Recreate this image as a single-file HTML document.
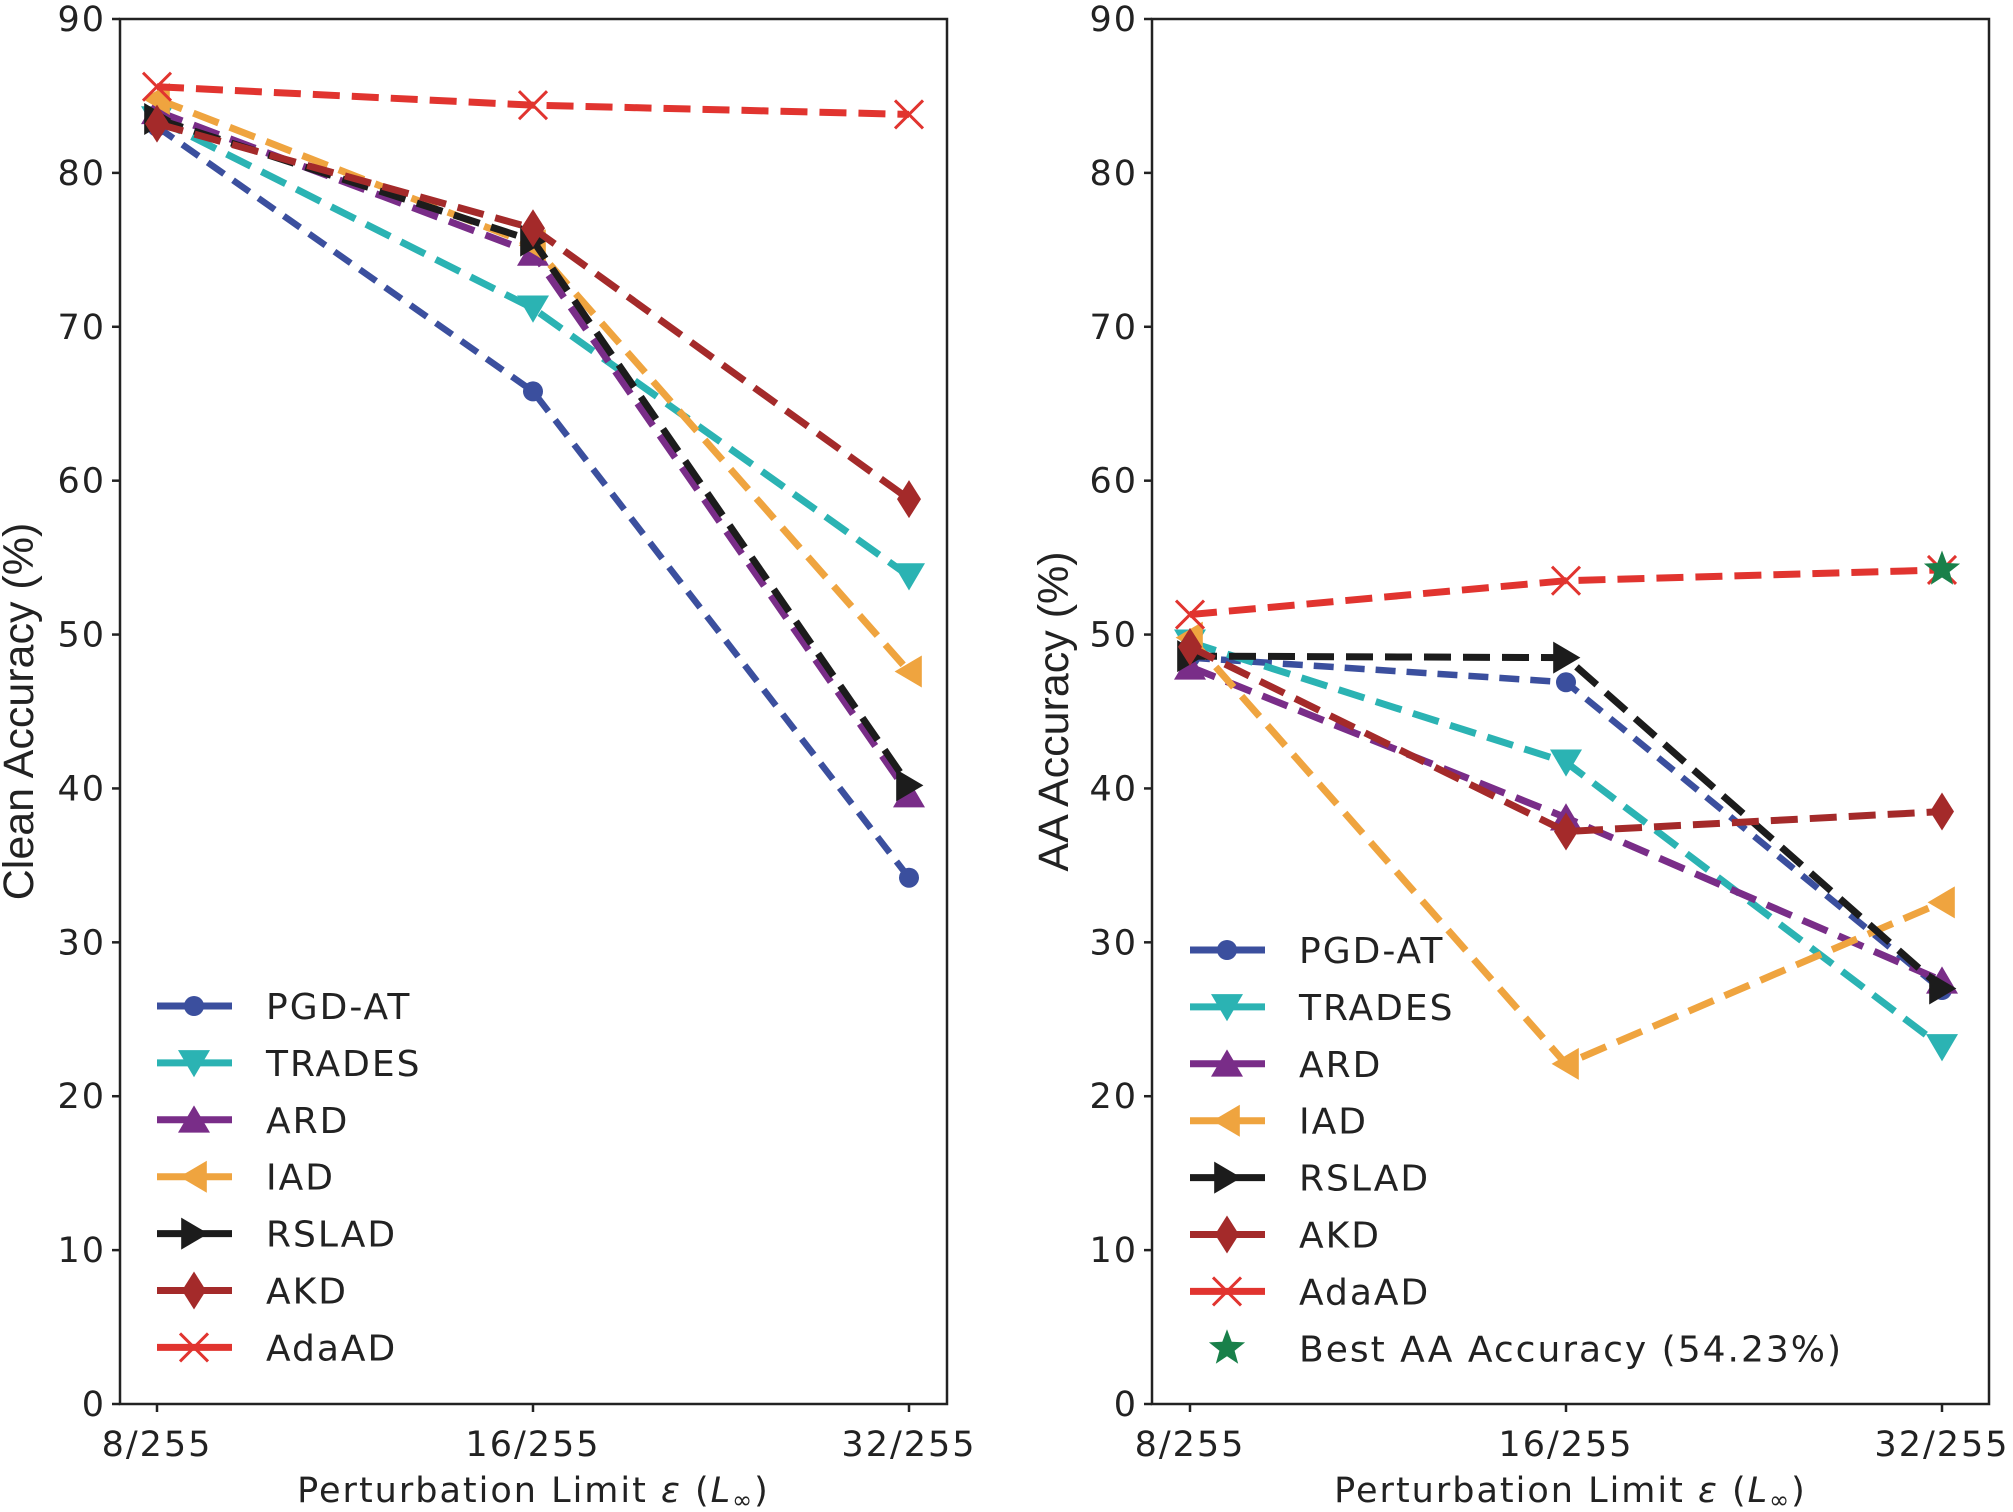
<!DOCTYPE html>
<html><head><meta charset="utf-8"><style>
html,body{margin:0;padding:0;background:#fff;}
svg{display:block;font-family:"DejaVu Sans","Liberation Sans",sans-serif;}
</style></head><body>
<svg id="chart" width="2013" height="1512" viewBox="0 0 2013 1512" xmlns="http://www.w3.org/2000/svg"></svg>
<script>
const categories = ["8/255","16/255","32/255"];
const yTicks = [0,10,20,30,40,50,60,70,80,90];
const seriesNames = ["PGD-AT","TRADES","ARD","IAD","RSLAD","AKD","AdaAD"];
const cleanPGDAT = [83.0,65.8,34.2];
const cleanTRADES = [83.5,71.2,53.8];
const cleanARD = [84.0,74.8,39.6];
const cleanIAD = [84.8,75.3,47.6];
const cleanRSLAD = [83.5,75.6,40.2];
const cleanAKD = [83.2,76.4,58.8];
const cleanAdaAD = [85.6,84.4,83.8];
const aaPGDAT = [48.5,46.9,26.9];
const aaTRADES = [49.5,41.7,23.2];
const aaARD = [47.9,38.1,27.5];
const aaIAD = [49.8,22.1,32.6];
const aaRSLAD = [48.6,48.5,27.0];
const aaAKD = [49.2,37.2,38.5];
const aaAdaAD = [51.3,53.5,54.2];
const bestAA = 54.23;
const bestIndex = 2;

const colors = ["#3b4f9e","#2bb3b3","#792d88","#efa43f","#1c1c1c","#a42a2a","#e1342f"];
const markers = ["circle","tdown","tup","tleft","tright","diamond","x"];
const NS="http://www.w3.org/2000/svg";
const svg=document.getElementById('chart');
function mk(tag,attrs,parent){const e=document.createElementNS(NS,tag);for(const k in attrs)e.setAttribute(k,attrs[k]);(parent||svg).appendChild(e);return e;}

function marker(g,type,x,y,color){
  const s=16;let e;
  if(type==="circle"){e=mk('circle',{cx:x,cy:y,r:10,fill:color},g);}
  else if(type==="tdown"){e=mk('polygon',{points:`${x-s},${y-s*0.8} ${x+s},${y-s*0.8} ${x},${y+s*0.9}`,fill:color},g);}
  else if(type==="tup"){e=mk('polygon',{points:`${x-s},${y+s*0.8} ${x+s},${y+s*0.8} ${x},${y-s*0.9}`,fill:color},g);}
  else if(type==="tleft"){e=mk('polygon',{points:`${x+s*0.8},${y-s} ${x+s*0.8},${y+s} ${x-s*0.9},${y}`,fill:color},g);}
  else if(type==="tright"){e=mk('polygon',{points:`${x-s*0.8},${y-s} ${x-s*0.8},${y+s} ${x+s*0.9},${y}`,fill:color},g);}
  else if(type==="diamond"){e=mk('polygon',{points:`${x},${y-19} ${x+12},${y} ${x},${y+19} ${x-12},${y}`,fill:color},g);}
  else if(type==="x"){e=mk('path',{d:`M${x-14},${y-14}L${x+14},${y+14}M${x-14},${y+14}L${x+14},${y-14}`,stroke:color,'stroke-width':3,fill:'none'},g);}
  else if(type==="star"){let p=[];for(let i=0;i<10;i++){const r=i%2?8:19;const a=-Math.PI/2+i*Math.PI/5;p.push((x+r*Math.cos(a)).toFixed(1)+','+(y+r*Math.sin(a)).toFixed(1));}e=mk('polygon',{points:p.join(' '),fill:color},g);}
  
  
  return e;
}

function panel(opts){
  const {x0,x1,y0,y1,cats,data,ytitle,ytitleX,legendY,legendX,name,best}=opts;
  const g=mk('g',{});
  
  
  const yScale=v=>y1-(v/90)*(y1-y0);
  const xScale=i=>cats[i];
  yTicks.forEach(t=>{
    const y=yScale(t);
    const l=mk('line',{x1:x0-8,x2:x0,y1:y,y2:y,stroke:'#222','stroke-width':2.5},g);
    
    const tx=mk('text',{x:x0-14,y:y+12,'text-anchor':'end','font-size':35,fill:'#222','letter-spacing':2},g);tx.textContent=t;
    
  });
  categories.forEach((c,i)=>{
    const x=xScale(i);
    const l=mk('line',{x1:x,x2:x,y1:y1,y2:y1+8,stroke:'#222','stroke-width':2.5},g);
    
    const tx=mk('text',{x:x,y:y1+52,'text-anchor':'middle','font-size':35,fill:'#222','letter-spacing':2},g);tx.textContent=c;
    
  });
  data.forEach((vals,si)=>{
    const sg=mk('g',{},g);
    
    
    const pts=vals.map((v,i)=>xScale(i)+','+yScale(v)).join(' ');
    const pl=mk('polyline',{points:pts,fill:'none',stroke:colors[si],'stroke-width':si===0?6.5:7,'stroke-dasharray':si===0?'20,11':'27,12'},sg);
    
    vals.forEach((v,i)=>marker(sg,markers[si],xScale(i),yScale(v),colors[si]));
  });
  if(best!==undefined){
    const s=marker(g,'star',xScale(bestIndex),yScale(best),'#19804a');
    
  }
  const fr=mk('rect',{x:x0,y:y0,width:x1-x0,height:y1-y0,fill:'none',stroke:'#222','stroke-width':2.5},g);
  
  const yt=mk('text',{x:ytitleX,y:(y0+y1)/2,'text-anchor':'middle','font-size':43,fill:'#222',transform:`rotate(-90 ${ytitleX} ${(y0+y1)/2})`,'font-family':'"Liberation Sans",sans-serif'},g);
  yt.textContent=ytitle;
  const xt=mk('text',{x:(x0+x1)/2,y:1502,'text-anchor':'middle','font-size':35,fill:'#222','letter-spacing':2},g);
  xt.innerHTML='Perturbation Limit <tspan font-style="italic">ε</tspan> (<tspan font-style="italic">L</tspan><tspan font-size="24" dy="6">∞</tspan><tspan dy="-6">)</tspan>';
  
  const lg=mk('g',{},g);
  seriesNames.forEach((n,i)=>{
    const y=legendY+i*56.9;
    const eg=mk('g',{},lg);
    mk('line',{x1:legendX,x2:legendX+75,y1:y,y2:y,stroke:colors[i],'stroke-width':7},eg);
    marker(eg,markers[i],legendX+37,y,colors[i]);
    const t=mk('text',{x:legendX+109,y:y+13,'font-size':36,fill:'#222','letter-spacing':2},eg);t.textContent=n;
  });
  if(best!==undefined){
    const y=legendY+7*56.9;
    const eg=mk('g',{},lg);
    marker(eg,'star',legendX+37,y,'#19804a');
    const t=mk('text',{x:legendX+109,y:y+13,'font-size':36,fill:'#222','letter-spacing':2},eg);t.textContent='Best AA Accuracy (54.23%)';
  }
}
panel({x0:120,x1:947,y0:19,y1:1404,cats:[157,533,909],
  data:[cleanPGDAT,cleanTRADES,cleanARD,cleanIAD,cleanRSLAD,cleanAKD,cleanAdaAD],
  ytitle:'Clean Accuracy (%)',ytitleX:33,legendY:1006,legendX:157,name:'clean-accuracy-panel'});
panel({x0:1152,x1:1989,y0:19,y1:1404,cats:[1190,1566,1942],
  data:[aaPGDAT,aaTRADES,aaARD,aaIAD,aaRSLAD,aaAKD,aaAdaAD],
  ytitle:'AA Accuracy (%)',ytitleX:1068,legendY:950,legendX:1190,name:'aa-accuracy-panel',best:bestAA});
</script>
</body></html>
